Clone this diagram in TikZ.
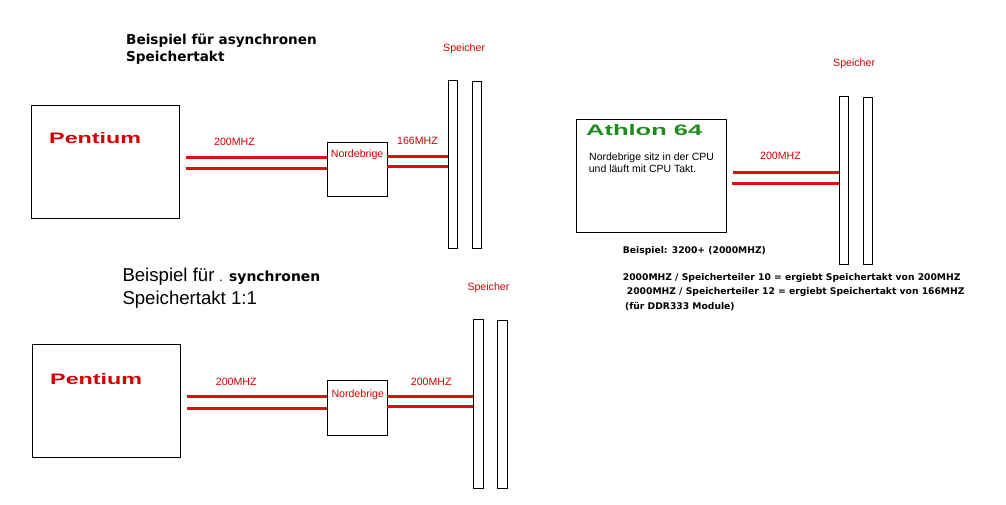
\documentclass[tikz,border=0pt]{standalone}
\usepackage{fontspec}
\setmainfont{Liberation Sans}
\newfontfamily\dv{DejaVu Sans}
\usetikzlibrary{calc}
\definecolor{mred}{RGB}{210,0,0}
\definecolor{lred}{RGB}{228,12,12}
\definecolor{agreen}{RGB}{28,140,28}
\tikzset{
  box/.style={draw, line width=1pt, inner sep=0pt, anchor=north west},
  bus/.style={draw=lred, line width=3pt},
  lbl/.style={inner sep=0pt, anchor=base west, text=mred, font=\fontsize{10.6}{12}\selectfont},
  txt/.style={inner sep=0pt, anchor=base west, font=\fontsize{10.5}{12}\selectfont},
  ttlA/.style={inner sep=0pt, anchor=base west, font=\dv\bfseries\fontsize{13.6}{16}\selectfont},
  ttlB/.style={inner sep=0pt, anchor=base west, font=\fontsize{18.6}{21}\selectfont},
  note/.style={inner sep=0pt, anchor=base west, font=\dv\bfseries\fontsize{9.2}{11}\selectfont},
  logo/.style={inner sep=0pt, anchor=base west, font=\bfseries}
}
\begin{document}
\begin{tikzpicture}[x=1pt,y=-1pt]
\fill[white] (0,0) rectangle (1006,505);
\useasboundingbox (0,0) rectangle (1006,505);

% ---------- top left: asynchronous ----------
\node[ttlA] (t1a) at (126,44.7) {Beispiel für asynchronen};
\node[ttlA] (t1b) at (126,61.3) {Speichertakt};
\node[box, minimum width=148pt, minimum height=113pt] (pent1) at (31,105) {};
\node[logo, text=mred] (pl1) at (49,144) {\resizebox{92pt}{11pt}{Pentium}};
\node[box, minimum width=60pt, minimum height=54.3pt] (nb1) at (326.7,141.7) {};
\node[lbl] (nbt1) at (330.7,157.3) {Nordebrige};
\node[box, minimum width=9pt, minimum height=168pt] (m1a) at (448,80) {};
\node[box, minimum width=9pt, minimum height=167pt] (m1b) at (472,81) {};
\node[lbl] (sp1) at (443,52) {Speicher};
\node[lbl] (f1a) at (214,146) {200MHZ};
\node[lbl] (f1b) at (397,145) {166MHZ};
\coordinate (c1u) at (186,157.7);
\coordinate (c1l) at (186,169);
\draw[bus] (c1u) -- (c1u -| nb1.west);
\draw[bus] (c1l) -- (c1l -| nb1.west);
\coordinate (d1u) at (386.7,156.7);
\coordinate (d1l) at (386.7,166.7);
\draw[bus] (d1u) -- (d1u -| m1a.west);
\draw[bus] (d1l) -- (d1l -| m1a.west);

% ---------- bottom left: synchronous ----------
\node[ttlB] (t2a) at (122.3,281) {Beispiel für {\dv\bfseries\fontsize{7}{8}\selectfont .} {\dv\bfseries\fontsize{13.9}{16}\selectfont synchronen}};
\node[ttlB] (t2b) at (122.3,304.5) {Speichertakt 1:1};
\node[box, minimum width=148.6pt, minimum height=113pt] (pent2) at (31.7,344.3) {};
\node[logo, text=mred] (pl2) at (50,384) {\resizebox{92pt}{11pt}{Pentium}};
\node[box, minimum width=60pt, minimum height=55.3pt] (nb2) at (327.3,380) {};
\node[lbl] (nbt2) at (331.3,397) {Nordebrige};
\node[box, minimum width=9.4pt, minimum height=168.4pt] (m2a) at (473.3,319.3) {};
\node[box, minimum width=9.4pt, minimum height=167.4pt] (m2b) at (497.3,320.3) {};
\node[lbl] (sp2) at (467.3,290.7) {Speicher};
\node[lbl] (f2a) at (215.7,385) {200MHZ};
\node[lbl] (f2b) at (410.7,385) {200MHZ};
\coordinate (c2u) at (187,396.7);
\coordinate (c2l) at (187,408.3);
\draw[bus] (c2u) -- (c2u -| nb2.west);
\draw[bus] (c2l) -- (c2l -| nb2.west);
\coordinate (d2u) at (387.3,396);
\coordinate (d2l) at (387.3,406);
\draw[bus] (d2u) -- (d2u -| m2a.west);
\draw[bus] (d2l) -- (d2l -| m2a.west);

% ---------- right: Athlon 64 ----------
\node[box, minimum width=149.7pt, minimum height=113pt] (ath) at (576,119.3) {};
\node[logo, text=agreen] (al) at (586,136) {\resizebox{116pt}{11pt}{Athlon 64}};
\node[txt] (at1) at (589,160.7) {Nordebrige sitz in der CPU};
\node[txt] (at2) at (588.7,173) {und läuft mit CPU Takt.};
\node[box, minimum width=9pt, minimum height=168pt] (m3a) at (839.3,96) {};
\node[box, minimum width=9pt, minimum height=166.7pt] (m3b) at (863.3,97.3) {};
\node[lbl] (sp3) at (833,67) {Speicher};
\node[lbl] (f3) at (760,160) {200MHZ};
\coordinate (e3u) at (732.7,172.3);
\coordinate (e3l) at (731.7,183.3);
\draw[bus] (e3u) -- (e3u -| m3a.west);
\draw[bus] (e3l) -- (e3l -| m3a.west);

\node[note] (n1) at (622.7,253.6) {Beispiel: 3200+ (2000MHZ)};
\node[note] (n2) at (622.7,280.6) {2000MHZ / Speicherteiler 10 = ergiebt Speichertakt von 200MHZ};
\node[note] (n3) at (626.7,294.6) {2000MHZ / Speicherteiler 12 = ergiebt Speichertakt von 166MHZ};
\node[note] (n4) at (625,309) {(für DDR333 Module)};
\end{tikzpicture}
\end{document}
